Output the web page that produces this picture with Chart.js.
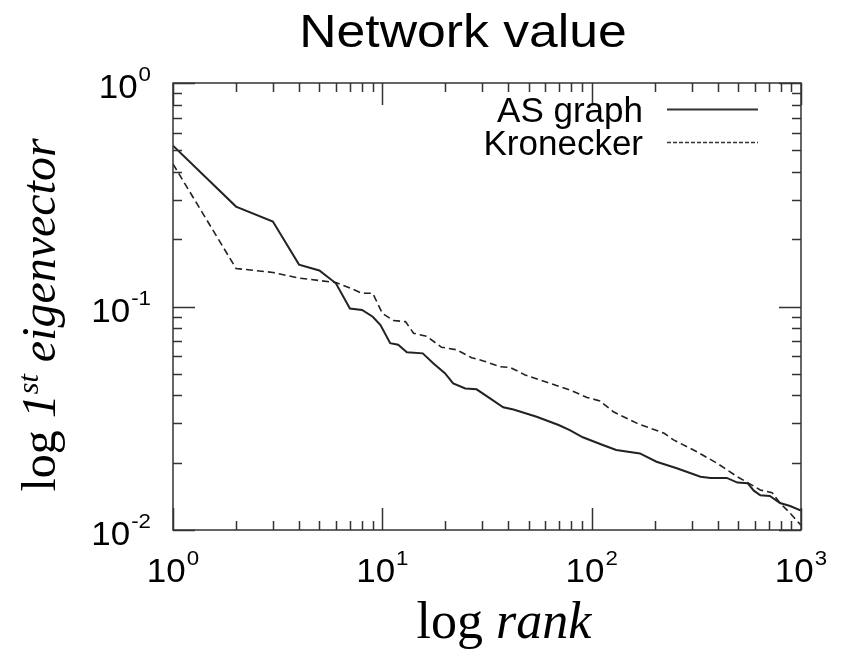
<!DOCTYPE html>
<html>
<head>
<meta charset="utf-8">
<script src="https://cdn.jsdelivr.net/npm/chart.js@4/dist/chart.umd.min.js"></script>
<style>
  html, body { margin: 0; padding: 0; background: #fff; }
  canvas { display: block; }
</style>
</head>
<body>
<canvas id="myChart" width="844" height="651"></canvas>
<script>
// rank / eigenvector component, both on log axes
const asRank = [1, 2, 3, 4, 5, 6, 7, 8, 9, 9.8, 10.9, 11.9, 13.1, 15.6, 17.5, 19.9, 21.8, 24.9, 28.2, 32.7, 37.8, 42.3, 54.6, 69.5, 78.6, 90.7, 113, 131, 170, 204, 255, 331, 370, 442, 497, 556, 595, 639, 710, 794, 887, 1000];
const asValue = [0.524, 0.28, 0.24, 0.154, 0.145, 0.127, 0.098, 0.0965, 0.090, 0.0826, 0.0685, 0.0675, 0.0624, 0.0617, 0.0557, 0.0503, 0.0453, 0.0430, 0.0426, 0.0388, 0.0354, 0.0346, 0.0321, 0.0295, 0.0280, 0.0260, 0.0240, 0.0228, 0.0220, 0.0202, 0.0189, 0.0173, 0.0171, 0.0171, 0.0163, 0.0162, 0.0150, 0.0143, 0.0142, 0.0132, 0.0128, 0.0122];

const kronRank = [1, 2, 3, 4, 6, 7, 8, 9, 10, 11.3, 12.9, 14.1, 16.3, 19.2, 22.7, 26.7, 30.4, 36.6, 40.8, 48.1, 63.1, 78.6, 95, 109.5, 127, 165, 222, 246, 318, 397, 497, 556, 639, 727, 794, 887, 1000];
const kronValue = [0.434, 0.148, 0.142, 0.134, 0.128, 0.121, 0.1146, 0.1146, 0.0932, 0.0865, 0.0856, 0.0759, 0.0735, 0.0657, 0.0640, 0.059, 0.0571, 0.0538, 0.0534, 0.0494, 0.0453, 0.0423, 0.0392, 0.0378, 0.0338, 0.030, 0.0271, 0.0253, 0.0224, 0.0199, 0.0173, 0.0163, 0.0151, 0.0147, 0.0132, 0.0119, 0.0105];

const seriesNames = ["AS graph", "Kronecker"];
const xTickExps = [0, 1, 2, 3];
const yTickExps = [-2, -1, 0];

const toPoints = (xs, ys) => xs.map((x, i) => ({ x: x, y: ys[i] }));

const SANS = '"Liberation Sans", Arial, sans-serif';
const SERIF = '"Liberation Serif", "Times New Roman", serif';

// text drawn with a slight horizontal stretch
function stretchedText(ctx, text, x, y, sx) {
  ctx.save();
  ctx.translate(x, y);
  ctx.scale(sx, 1);
  ctx.fillText(text, 0, 0);
  ctx.restore();
}

// "10" with a raised exponent, centred or right-aligned at x
function powerLabel(ctx, exp, x, y, align) {
  const sx = 1.06;
  ctx.font = '33px ' + SANS;
  const wBase = ctx.measureText('10').width * sx;
  ctx.font = '21px ' + SANS;
  const wSup = ctx.measureText(String(exp)).width * sx;
  const total = wBase + wSup + 1;
  const left = align === 'right' ? x - total : x - total / 2;
  ctx.textAlign = 'left';
  ctx.textBaseline = 'alphabetic';
  ctx.font = '33px ' + SANS;
  stretchedText(ctx, '10', left, y, sx);
  ctx.font = '21px ' + SANS;
  stretchedText(ctx, String(exp), left + wBase + 1, y - 17, sx);
}

// draws pieces of mixed-style text in a row, centred on (0,0)
function richRow(ctx, pieces) {
  let total = 0;
  pieces.forEach(p => { ctx.font = p.font; p.w = ctx.measureText(p.text).width; total += p.w; });
  let x = -total / 2;
  ctx.textAlign = 'left';
  ctx.textBaseline = 'alphabetic';
  pieces.forEach(p => {
    ctx.font = p.font;
    ctx.fillText(p.text, x, -(p.rise || 0));
    x += p.w;
  });
}

const gnuplotFrame = {
  id: 'gnuplotFrame',
  afterDraw(chart) {
    const ctx = chart.ctx;
    const area = chart.chartArea;
    const xs = chart.scales.x;
    const ys = chart.scales.y;
    const ink = '#333';

    ctx.save();
    ctx.strokeStyle = ink;
    ctx.lineWidth = 1.5;
    ctx.strokeRect(area.left, area.top, area.right - area.left, area.bottom - area.top);

    // inward ticks on all four sides
    const major = 22, minor = 9;
    ctx.beginPath();
    for (let e = xTickExps[0]; e <= xTickExps[xTickExps.length - 1]; e++) {
      for (let k = 1; k <= 9; k++) {
        const v = k * Math.pow(10, e);
        if (v > xs.max * 1.0001) break;
        const px = Math.round(xs.getPixelForValue(v)) + 0.5;
        const len = k === 1 ? major : minor;
        ctx.moveTo(px, area.bottom); ctx.lineTo(px, area.bottom - len);
        ctx.moveTo(px, area.top); ctx.lineTo(px, area.top + len);
      }
    }
    for (let e = yTickExps[0]; e <= yTickExps[yTickExps.length - 1]; e++) {
      for (let k = 1; k <= 9; k++) {
        const v = k * Math.pow(10, e);
        if (v > ys.max * 1.0001) break;
        const py = Math.round(ys.getPixelForValue(v)) + 0.5;
        const len = k === 1 ? major : minor;
        ctx.moveTo(area.left, py); ctx.lineTo(area.left + len, py);
        ctx.moveTo(area.right, py); ctx.lineTo(area.right - len, py);
      }
    }
    ctx.stroke();

    // tick labels
    ctx.fillStyle = '#000';
    xTickExps.forEach(e => {
      powerLabel(ctx, e, xs.getPixelForValue(Math.pow(10, e)), area.bottom + 52, 'center');
    });
    yTickExps.forEach(e => {
      powerLabel(ctx, e, area.left - 22, ys.getPixelForValue(Math.pow(10, e)) + 15, 'right');
    });

    // title
    ctx.font = '47px ' + SANS;
    const tw = ctx.measureText('Network value').width * 1.1;
    ctx.textAlign = 'left';
    stretchedText(ctx, 'Network value', 463 - tw / 2, 47, 1.1);

    // x axis title
    ctx.save();
    ctx.translate(504, 638);
    richRow(ctx, [
      { text: 'log ', font: '52px ' + SERIF },
      { text: 'rank', font: 'italic 52px ' + SERIF }
    ]);
    ctx.restore();

    // y axis title
    ctx.save();
    ctx.translate(55, 315);
    ctx.rotate(-Math.PI / 2);
    richRow(ctx, [
      { text: 'log ', font: '48px ' + SERIF },
      { text: '1', font: 'italic 48px ' + SERIF },
      { text: 'st', font: 'italic 30px ' + SERIF, rise: 17 },
      { text: ' eigenvector', font: 'italic 48px ' + SERIF }
    ]);
    ctx.restore();

    // key: label then line sample
    const keyRows = [
      { y: 122, dash: [], width: 2 },
      { y: 155, dash: [4, 2], width: 1.3 }
    ];
    ctx.font = '35px ' + SANS;
    ctx.textAlign = 'right';
    keyRows.forEach((row, i) => {
      ctx.fillStyle = '#000';
      ctx.fillText(seriesNames[i], 643, row.y);
      ctx.beginPath();
      ctx.setLineDash(row.dash);
      ctx.lineWidth = row.width;
      ctx.strokeStyle = '#333';
      ctx.moveTo(667, row.y - 12.5);
      ctx.lineTo(758, row.y - 12.5);
      ctx.stroke();
    });
    ctx.setLineDash([]);
    ctx.restore();
  }
};

new Chart(document.getElementById('myChart'), {
  type: 'line',
  data: {
    datasets: [
      {
        label: seriesNames[0],
        data: toPoints(asRank, asValue),
        borderColor: '#222',
        borderWidth: 2,
        pointRadius: 0,
        tension: 0
      },
      {
        label: seriesNames[1],
        data: toPoints(kronRank, kronValue),
        borderColor: '#222',
        borderWidth: 1.6,
        borderDash: [7, 4],
        pointRadius: 0,
        tension: 0
      }
    ]
  },
  options: {
    responsive: false,
    animation: false,
    layout: { padding: { left: 173, top: 83, right: 43, bottom: 121 } },
    scales: {
      x: { type: 'logarithmic', min: 1, max: 1000, display: false },
      y: { type: 'logarithmic', min: 0.01, max: 1, display: false }
    },
    plugins: {
      legend: { display: false },
      tooltip: { enabled: false },
      title: { display: false }
    }
  },
  plugins: [gnuplotFrame]
});
</script>
</body>
</html>
